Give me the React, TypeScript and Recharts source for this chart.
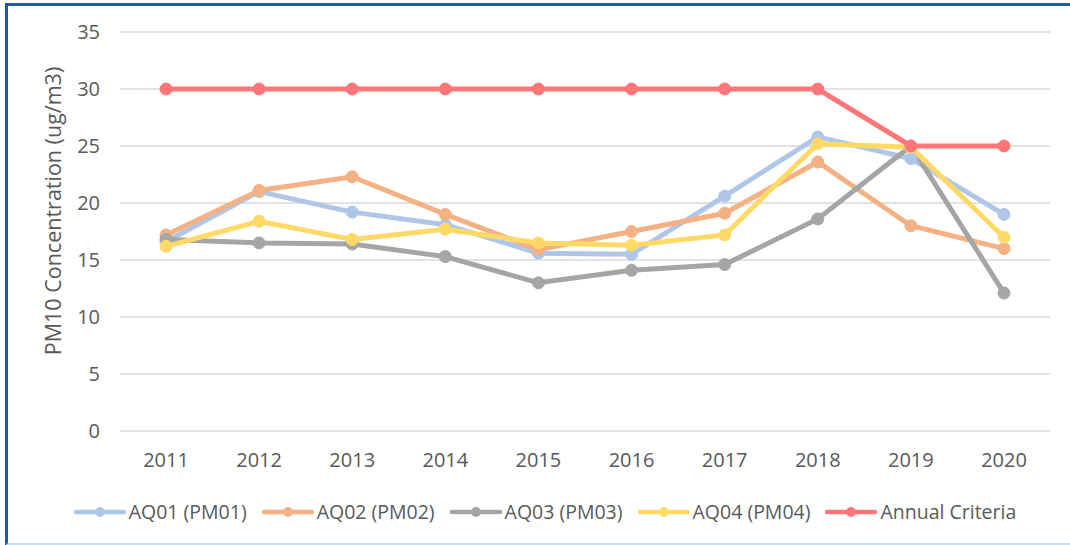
import React from 'react';
import { LineChart, Line, XAxis, YAxis, CartesianGrid, Legend, Label } from 'recharts';

const years = ['2011', '2012', '2013', '2014', '2015', '2016', '2017', '2018', '2019', '2020'];
const aq01 = [16.6, 21.0, 19.2, 18.1, 15.6, 15.5, 20.6, 25.8, 23.9, 19.0];
const aq02 = [17.2, 21.1, 22.3, 19.0, 15.9, 17.5, 19.1, 23.6, 18.0, 16.0];
const aq03 = [16.8, 16.5, 16.4, 15.3, 13.0, 14.1, 14.6, 18.6, 25.0, 12.1];
const aq04 = [16.2, 18.4, 16.8, 17.7, 16.5, 16.3, 17.2, 25.2, 24.9, 17.0];
const criteria = [30, 30, 30, 30, 30, 30, 30, 30, 25, 25];
const yTicks = [0, 5, 10, 15, 20, 25, 30, 35];

const series = [
  { key: 'aq01', name: 'AQ01 (PM01)', color: '#AFC6E9' },
  { key: 'aq02', name: 'AQ02 (PM02)', color: '#F4B183' },
  { key: 'aq03', name: 'AQ03 (PM03)', color: '#A5A5A5' },
  { key: 'aq04', name: 'AQ04 (PM04)', color: '#FFD966' },
  { key: 'criteria', name: 'Annual Criteria', color: '#FF7678' },
];

const data = years.map((year, i) => ({
  year,
  aq01: aq01[i],
  aq02: aq02[i],
  aq03: aq03[i],
  aq04: aq04[i],
  criteria: criteria[i],
}));

const FONT = '"Open Sans", Calibri, sans-serif';
const TEXT = '#595959';

// legend: line with dot in the middle, like Excel
const LegendRow = () => (
  <div style={{ display: 'flex', justifyContent: 'center', alignItems: 'center', fontFamily: FONT, fontSize: 19.5, color: TEXT }}>
    {series.map((s, i) => (
      <div key={s.key} style={{ display: 'flex', alignItems: 'center', marginRight: i < series.length - 1 ? 15 : 0 }}>
        <svg width={52} height={14} style={{ marginRight: 3 }}>
          <line x1={2} y1={7} x2={50} y2={7} stroke={s.color} strokeWidth={4.5} strokeLinecap="round" />
          <circle cx={26} cy={7} r={5} fill={s.color} />
        </svg>
        <span>{s.name}</span>
      </div>
    ))}
  </div>
);

export default function App() {
  return (
    <div style={{ position: 'absolute', left: 0, top: 0, width: 1070, height: 545, background: '#ffffff', overflow: 'hidden' }}>
      <div
        style={{
          position: 'absolute',
          left: 5,
          top: 3,
          width: 1070,
          height: 537,
          borderTop: '3px solid #1F5AA6',
          borderLeft: '3px solid #1F5AA6',
          borderBottom: '3px solid #C9DDF2',
        }}
      />
      <div style={{ position: 'absolute', left: 0, top: 0 }}>
        <LineChart width={1070} height={545} data={data} margin={{ top: 32, right: 20, bottom: 10, left: 0 }}>
          <CartesianGrid vertical={false} stroke="#D9D9D9" strokeWidth={1.5} />
          <XAxis
            dataKey="year"
            padding={{ left: 46, right: 46 }}
            axisLine={false}
            tickLine={false}
            tickSize={0}
            tickMargin={22}
            height={40}
            tick={{ fill: TEXT, fontSize: 20, fontFamily: FONT }}
            interval={0}
          />
          <YAxis
            domain={[0, 35]}
            ticks={yTicks}
            width={120}
            axisLine={false}
            tickLine={false}
            tickSize={0}
            tickMargin={20}
            tick={{ fill: TEXT, fontSize: 20, fontFamily: FONT }}
          >
            <Label
              content={() => (
                <text
                  x={52}
                  y={211}
                  transform="rotate(-90, 52, 211)"
                  textAnchor="middle"
                  dominantBaseline="central"
                  fill={TEXT}
                  fontSize={21.5}
                  fontFamily={FONT}
                >
                  PM10 Concentration (ug/m3)
                </text>
              )}
            />
          </YAxis>
          <Legend
            verticalAlign="bottom"
            height={64}
            content={() => <LegendRow />}
            wrapperStyle={{ top: 498, bottom: 'auto', left: 0, width: 1090 }}
          />
          {series.map((s) => (
            <Line
              key={s.key}
              type="linear"
              dataKey={s.key}
              name={s.name}
              stroke={s.color}
              strokeWidth={5}
              dot={{ r: 6, fill: s.color, stroke: s.color, strokeWidth: 1 }}
              activeDot={false}
              isAnimationActive={false}
            />
          ))}
        </LineChart>
      </div>
    </div>
  );
}
